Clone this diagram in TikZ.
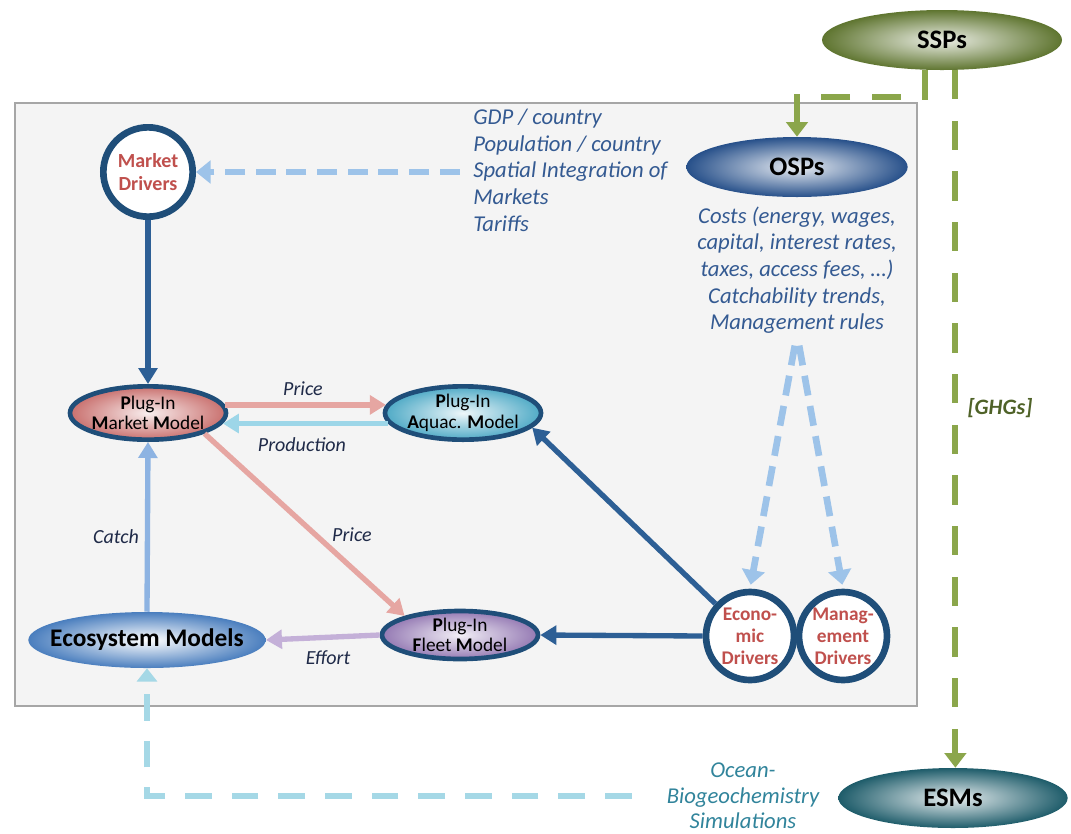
\documentclass[tikz,border=0pt]{standalone}
\usepackage{fontspec}
\setmainfont{Carlito}
\usetikzlibrary{shapes.geometric,arrows.meta}

\definecolor{panel}{HTML}{F4F4F4}
\definecolor{panelline}{HTML}{A6A6A6}
\definecolor{navy}{HTML}{1F4E79}
\definecolor{flowblue}{HTML}{2D5F95}
\definecolor{drvred}{HTML}{C0504D}
\definecolor{noteblue}{HTML}{345A92}
\definecolor{labelnavy}{HTML}{1F2A48}
\definecolor{sspgreen}{HTML}{5F7530}
\definecolor{dashgreen}{HTML}{8BA64B}
\definecolor{ghggreen}{HTML}{4F6228}
\definecolor{ospblue}{HTML}{27508A}
\definecolor{esmteal}{HTML}{1E5C6A}
\definecolor{ecoblue}{HTML}{4A7EBE}
\definecolor{mktred}{HTML}{C9706E}
\definecolor{aqcyan}{HTML}{4FAAC6}
\definecolor{fleetpurple}{HTML}{9479B3}
\definecolor{pricepink}{HTML}{E6A6A2}
\definecolor{prodcyan}{HTML}{9DD6E8}
\definecolor{catchblue}{HTML}{8DB3E2}
\definecolor{effortlilac}{HTML}{C4B0D8}
\definecolor{skydash}{HTML}{9DC3E9}
\definecolor{oceandash}{HTML}{A5D8E6}
\definecolor{oceantext}{HTML}{31849B}

\begin{document}
\begin{tikzpicture}[x=0.75pt, y=-0.75pt,
	oval/.style={ellipse, inner xsep=-15pt, inner ysep=-4pt, align=center, text=black},
	plugin/.style={oval, draw=navy, line width=3.5pt, minimum width=117pt, minimum height=40pt, font=\fontsize{14.5}{15.5}\selectfont},
	bigoval/.style={oval, minimum height=45pt, font=\fontsize{20}{22}\selectfont\bfseries},
	driver/.style={circle, draw=navy, line width=5pt, fill=white, inner sep=0pt, minimum size=66pt, align=center, text=drvred, font=\fontsize{14.5}{16.5}\selectfont\bfseries},
	note/.style={inner sep=0pt, align=center, text=noteblue, font=\fontsize{17}{20}\selectfont\itshape},
	flowlabel/.style={text=labelnavy, font=\fontsize{15}{17}\selectfont\itshape},
	flow/.style={line width=4pt, -{Triangle[length=12pt, width=14pt]}},
	skyflow/.style={skydash, line width=5pt, dash pattern=on 15pt off 8pt, -{Triangle[length=11pt, width=17pt]}},
	greenflow/.style={dashgreen, line width=4.5pt, dash pattern=on 22pt off 16pt, -{Triangle[length=11pt, width=16pt]}},
	oceanflow/.style={oceandash, line width=4.5pt, dash pattern=on 20pt off 15pt, -{Triangle[length=10pt, width=15pt]}}]
	\useasboundingbox (0, 0) rectangle (1071, 833);
	\draw[panelline, fill=panel, line width=1.5pt] (15, 103) rectangle (917, 706);

	\node[bigoval, minimum width=180pt, shade, inner color=sspgreen!12, outer color=sspgreen] (ssp) at (942, 40) {SSPs};
	\node[bigoval, minimum width=166pt, shade, inner color=ospblue!10, outer color=ospblue] (osp) at (797, 167) {OSPs};
	\node[bigoval, minimum width=172pt, shade, inner color=esmteal!10, outer color=esmteal] (esm) at (953, 798) {ESMs};
	\node[bigoval, minimum width=178pt, minimum height=42pt, font=\fontsize{19}{21}\selectfont\bfseries, shade, inner color=white, outer color=ecoblue] (es) at (147, 640) {Ecosystem Models};

	\node[driver, minimum size=67pt, font=\fontsize{15}{17.5}\selectfont\bfseries] (md) at (148, 172) {Market\\Drivers};
	\node[driver] (eco) at (750, 636) {Econo-\\mic\\Drivers};
	\node[driver] (mgt) at (843, 636) {Manag-\\ement\\Drivers};

	\node[plugin, shade, inner color=mktred!12, outer color=mktred] (mm) at (148, 413) {\textbf{P}lug-In\\\textbf{M}arket \textbf{M}odel};
	\node[plugin, shade, inner color=aqcyan!10, outer color=aqcyan] (aq) at (463, 413) {\textbf{P}lug-In\\\textbf{A}quac. \textbf{M}odel};
	\node[plugin, minimum height=36pt, shade, inner color=fleetpurple!12, outer color=fleetpurple] (fl) at (460, 635) {\textbf{P}lug-In\\\textbf{F}leet \textbf{M}odel};

	\node[note, align=left, anchor=west] (mdtext) at (473, 170) {GDP / country\\Population / country\\Spatial Integration of\\Markets\\Tariffs};
	\node[note] (osptext) at (797, 270) {Costs (energy, wages,\\capital, interest rates,\\taxes, access fees, \dots)\\Catchability trends,\\Management rules};
	\node[note, text=oceantext, font=\fontsize{17}{19}\selectfont\itshape] (ocean) at (743, 796) {Ocean-\\Biogeochemistry\\Simulations};
	\node[text=ghggreen, font=\fontsize{16.5}{18}\selectfont\bfseries\itshape] (ghg) at (1000, 408) {[GHGs]};

	\node[flowlabel] (lprice) at (303, 389) {Price};
	\node[flowlabel] (lprod) at (302, 445) {Production};
	\node[flowlabel] (lprice2) at (352, 535) {Price};
	\node[flowlabel] (lcatch) at (116, 537) {Catch};
	\node[flowlabel] (leffort) at (328, 658) {Effort};

	\draw[greenflow] (ssp.-120) |- ([yshift=30pt]osp.north) -- (osp.north);
	\draw[greenflow] (ssp.-66) -- (ssp.-66 |- esm.north);
	\draw[skyflow, shorten <=10pt] (mdtext.west |- md.east) -- (md.east);
	\draw[skyflow, shorten <=9pt, shorten >=3pt] (osptext.south) -- (eco.north);
	\draw[skyflow, shorten <=9pt, shorten >=3pt] (osptext.south) -- (mgt.north);
	\draw[oceanflow, shorten <=26pt] (ocean.west) -| (es.south);

	\draw[flow, flowblue] (md.south) -- (mm.north);
	\draw[flow, flowblue] (eco.west) -- (fl.east);
	\draw[flow, flowblue] (eco.137) -- (aq.-12);
	\draw[flow, pricepink] (mm.6) -- (aq.174);
	\draw[flow, prodcyan] (aq.-172) -- (mm.-8);
	\draw[flow, pricepink] (mm.-20) -- (fl.161);
	\draw[flow, catchblue] (es.north) -- (mm.south);
	\draw[flow, effortlilac] (fl.west) -- (es.east);
\end{tikzpicture}
\end{document}
